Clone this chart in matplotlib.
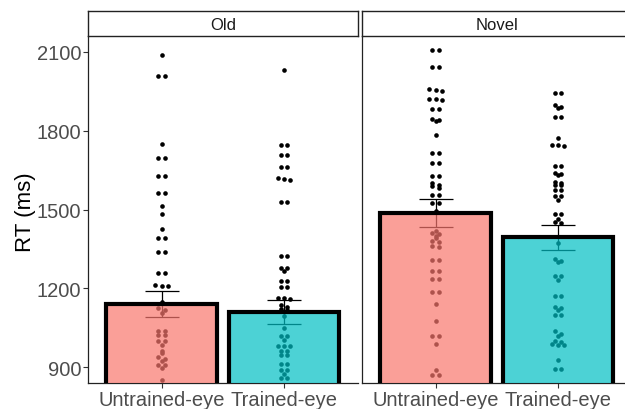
import matplotlib
matplotlib.use("Agg")
import matplotlib.pyplot as plt
import numpy as np

plt.rcParams['font.family'] = ['Liberation Sans', 'DejaVu Sans']

# conditions and facets
panels = ["Old", "Novel"]
eyes = ["Untrained-eye", "Trained-eye"]
bar_colors = ["#F8766D", "#00BFC4"]

# bar heights and standard errors (ms)
means = {"Old": [1141, 1109], "Novel": [1487, 1394]}
ses = {"Old": [49, 45], "Novel": [52, 47]}

# per-subject RTs (ms)
old_untrained = [2087, 2007, 2007, 1750, 1696, 1696, 1628, 1628, 1561, 1561, 1514, 1482,
                 1425, 1393, 1393, 1337, 1337, 1260, 1260, 1214, 1210, 1210, 1150, 1127,
                 1118, 1105, 1039, 1039, 1021, 1021, 998, 998, 986, 963, 953, 938, 930,
                 925, 910, 910, 898, 853]
old_trained = [2030, 1747, 1747, 1709, 1709, 1663, 1663, 1618, 1615, 1612, 1528, 1528,
               1322, 1322, 1278, 1278, 1266, 1228, 1228, 1204, 1204, 1165, 1162, 1158,
               1135, 1128, 1122, 1118, 1093, 1049, 1017, 1017, 1005, 982, 982, 982, 963,
               963, 948, 948, 914, 914, 888, 888, 875, 860, 860]
novel_untrained = [2106, 2106, 2043, 2043, 1958, 1955, 1950, 1922, 1920, 1915, 1881, 1881,
                   1846, 1840, 1835, 1785, 1716, 1716, 1678, 1678, 1626, 1626, 1602, 1595,
                   1588, 1580, 1556, 1556, 1524, 1524, 1493, 1420, 1410, 1405, 1400, 1390,
                   1380, 1375, 1362, 1358, 1307, 1307, 1266, 1266, 1235, 1235, 1185, 1185,
                   1141, 1074, 1020, 1020, 988, 891, 872, 872]
novel_trained = [1944, 1944, 1897, 1890, 1886, 1852, 1852, 1773, 1745, 1745, 1740, 1665,
                 1665, 1640, 1635, 1630, 1605, 1600, 1595, 1592, 1573, 1573, 1553, 1553,
                 1535, 1484, 1484, 1463, 1452, 1449, 1374, 1313, 1305, 1300, 1248, 1248,
                 1230, 1172, 1172, 1131, 1125, 1118, 1100, 1100, 1036, 1028, 1020, 1000,
                 995, 990, 983, 983, 929, 895, 895]
points = {"Old": [old_untrained, old_trained],
          "Novel": [novel_untrained, novel_trained]}

yticks = [900, 1200, 1500, 1800, 2100]


def spread(values, step=0.05, tol=9):
    # spread near-equal values sideways so they don't overlap
    vals = np.asarray(values, dtype=float)
    offs = np.zeros(len(vals))
    i = 0
    while i < len(vals):
        j = i
        while j + 1 < len(vals) and abs(vals[j + 1] - vals[i]) <= tol:
            j += 1
        n = j - i + 1
        offs[i:j + 1] = (np.arange(n) - (n - 1) / 2) * step
        i = j + 1
    return offs


W, H = 625, 410
fig = plt.figure(figsize=(W / 100, H / 100), dpi=100)

panel_w = 269.5
lefts = [88, 362]
bottom_px, top_px = 384, 37

for k, (pname, left) in enumerate(zip(panels, lefts)):
    ax = fig.add_axes([left / W, (H - bottom_px) / H, panel_w / W, (bottom_px - top_px) / H])
    xs = np.arange(1, 3)
    for i in range(2):
        vals = points[pname][i]
        ax.scatter(xs[i] + spread(vals), vals, s=11, color="black", zorder=1, linewidths=0)
    ax.errorbar(xs, means[pname], yerr=ses[pname], fmt="none", ecolor="black",
                elinewidth=0.9, capsize=12, capthick=0.9, zorder=2)
    ax.bar(xs, means[pname], width=0.9, color=bar_colors, alpha=0.7, zorder=3,
           linewidth=0)
    ax.bar(xs, means[pname], width=0.9, fill=False, edgecolor="black", linewidth=3,
           zorder=4)

    ax.set_xlim(0.4, 2.6)
    ax.set_ylim(840, 2160)
    ax.set_xticks(xs)
    ax.set_xticklabels(eyes, fontsize=14.5, color="#4D4D4D")
    ax.set_yticks(yticks)
    for s in ["top", "right"]:
        ax.spines[s].set_visible(False)
    for s in ["left", "bottom"]:
        ax.spines[s].set_color("#222222")
        ax.spines[s].set_linewidth(0.9)
    ax.tick_params(axis="x", length=3.5, width=0.8, color="#333333", pad=1.5)
    if k == 0:
        ax.set_yticklabels([str(t) for t in yticks], fontsize=14.5, color="#4D4D4D")
        ax.tick_params(axis="y", length=3.5, width=0.8, color="#333333", pad=1.5)
    else:
        ax.tick_params(axis="y", length=0, labelleft=False)

    # facet strip
    sax = fig.add_axes([left / W, (H - top_px) / H, panel_w / W, 25 / H])
    sax.set_xticks([])
    sax.set_yticks([])
    for s in sax.spines.values():
        s.set_color("#222222")
        s.set_linewidth(1.0)
    sax.text(0.5, 0.45, pname, ha="center", va="center",
             fontsize=12, color="#1A1A1A", transform=sax.transAxes)

fig.text(25 / W, (H - 212) / H, "RT (ms)", rotation=90, ha="center", va="center",
         fontsize=16, color="black")

fig.savefig("out.png", dpi=100)
